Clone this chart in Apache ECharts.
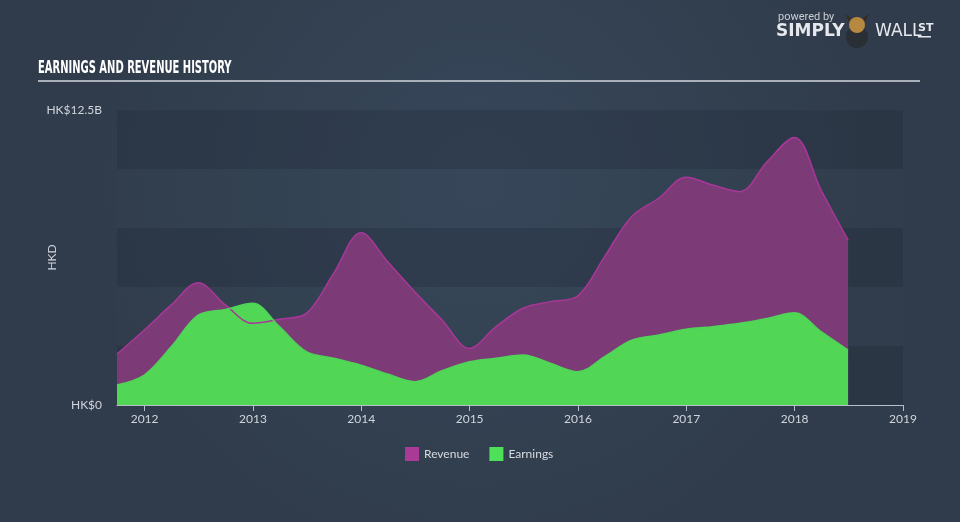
<!DOCTYPE html>
<html>
<head>
<meta charset="utf-8">
<script src="https://cdn.jsdelivr.net/npm/echarts@6/dist/echarts.min.js"></script>
<style>html,body{margin:0;padding:0;background:#333f4f;}#c{width:960px;height:522px;}</style>
</head>
<body>
<div id="c"></div>
<script>
// Quarter-end dates
const dates = ['2011-09-30','2011-12-31','2012-03-31','2012-06-30','2012-09-30','2012-12-31',
  '2013-03-31','2013-06-30','2013-09-30','2013-12-31','2014-03-31','2014-06-30','2014-09-30','2014-12-31',
  '2015-03-31','2015-06-30','2015-09-30','2015-12-31','2016-03-31','2016-06-30','2016-09-30','2016-12-31',
  '2017-03-31','2017-06-30','2017-09-30','2017-12-31','2018-03-31','2018-06-30'];
// Values in HK$ billions
const revenue = [2.16,3.18,4.24,5.18,4.24,3.46,3.63,3.88,5.58,7.30,6.07,4.80,3.60,2.40,
  3.32,4.10,4.38,4.62,6.29,7.98,8.76,9.65,9.32,9.04,10.31,11.34,9.11,6.99];
const earnings = [0.85,1.27,2.47,3.81,4.05,4.31,3.32,2.26,1.98,1.69,1.31,0.99,1.45,1.83,
  1.98,2.12,1.77,1.41,2.05,2.75,2.97,3.21,3.32,3.46,3.67,3.91,3.11,2.33];
const yearTicks = [2012,2013,2014,2015,2016,2017,2018,2019];
const yMax = 12.5;
const yLabels = {0:'HK$0', 12.5:'HK$12.5B'};

// date string -> fractional year
function fy(d) {
  const t = new Date(d + 'T00:00:00Z');
  const y = t.getUTCFullYear();
  const a = Date.UTC(y,0,1), b = Date.UTC(y+1,0,1);
  return y + (t.getTime() - a) / (b - a);
}

const chart = echarts.init(document.getElementById('c'));

chart.setOption({
  animation: false,
  backgroundColor: {type:'radial', x:0.5, y:0.35, r:0.75,
    colorStops:[{offset:0,color:'#37475a'},{offset:1,color:'#303c4b'}]},
  grid: {left:117, right:57, top:110, bottom:117},
  legend: {
    bottom: 56, left: 400, icon: 'rect', itemWidth: 14, itemHeight: 14, itemGap: 20,
    textStyle: {color:'#d6dae0', fontSize:12, fontFamily:'Lato'},
    data: ['Revenue','Earnings']
  },
  graphic: [
    {type:'text', x:38, y:59, scaleX:0.615, style:{text:'EARNINGS AND REVENUE HISTORY', fill:'#ffffff',
      font:'bold 18px "DejaVu Sans Condensed"'}},
    {type:'rect', shape:{x:38, y:80, width:882, height:2}, style:{fill:'#a9b0b9'}},
    {type:'text', x:778, y:12, style:{text:'powered by', fill:'#c9ced4', font:'11px Roboto'}},
    {type:'text', x:776, y:23, style:{text:'SIMPLY', fill:'#e6e8eb', font:'bold 17px "DejaVu Sans"'}},
    {type:'circle', shape:{cx:857, cy:37, r:11}, style:{fill:'#2a2e35'}},
    {type:'polygon', shape:{points:[[845,14],[849,22],[851,18]]}, style:{fill:'#3a2c20'}},
    {type:'polygon', shape:{points:[[869,14],[865,22],[863,18]]}, style:{fill:'#3a2c20'}},
    {type:'circle', shape:{cx:857, cy:25, r:8}, style:{fill:'#b5893f'}},
    {type:'text', x:875, y:23, style:{text:'WALL', fill:'#e6e8eb', font:'17px "DejaVu Sans"'}},
    {type:'text', x:918, y:23, style:{text:'ST', fill:'#e6e8eb', font:'bold 11px "DejaVu Sans"'}},
    {type:'rect', shape:{x:918, y:36, width:13, height:1.5}, style:{fill:'#e6e8eb'}}
  ],
  xAxis: {
    type: 'value', min: fy(dates[0]), max: yearTicks[yearTicks.length-1],
    axisLine: {show:true, lineStyle:{color:'#b7bfca', width:1}},
    axisTick: {show:true, customValues: yearTicks, length:6, lineStyle:{color:'#b7bfca'}},
    axisLabel: {customValues: yearTicks, color:'#d0d5dc', fontSize:12, fontFamily:'Lato', margin:8,
      formatter: v => String(Math.round(v))},
    splitLine: {show:false}
  },
  yAxis: {
    type: 'value', min: 0, max: yMax, interval: 2.5,
    name: 'HKD', nameLocation: 'middle', nameGap: 59, nameRotate: 90, nameMoveOverlap: false,
    nameTextStyle: {color:'#d0d5dc', fontSize:12, fontFamily:'Lato'},
    axisLine: {show:false}, axisTick: {show:false},
    axisLabel: {color:'#d0d5dc', fontSize:12, fontFamily:'Lato', margin:15,
      formatter: v => (yLabels[v] !== undefined ? yLabels[v] : '')},
    splitLine: {show:false},
    splitArea: {show:true, areaStyle:{color:['rgba(35,45,58,0.32)','rgba(60,75,92,0.10)']}}
  },
  series: [
    {name:'Revenue', type:'line', smooth:0.35, symbol:'none',
      data: dates.map((d,i)=>[fy(d), revenue[i]]),
      itemStyle:{color:'#a93a96'},
      lineStyle:{color:'#a9379a', width:1.5},
      areaStyle:{color:'#7c3a76', opacity:1}},
    {name:'Earnings', type:'line', smooth:0.35, symbol:'none',
      data: dates.map((d,i)=>[fy(d), earnings[i]]),
      itemStyle:{color:'#4fe05a'},
      lineStyle:{color:'#4fd458', width:1.5},
      areaStyle:{color:'#52d655', opacity:1}}
  ]
});
</script>
</body>
</html>
